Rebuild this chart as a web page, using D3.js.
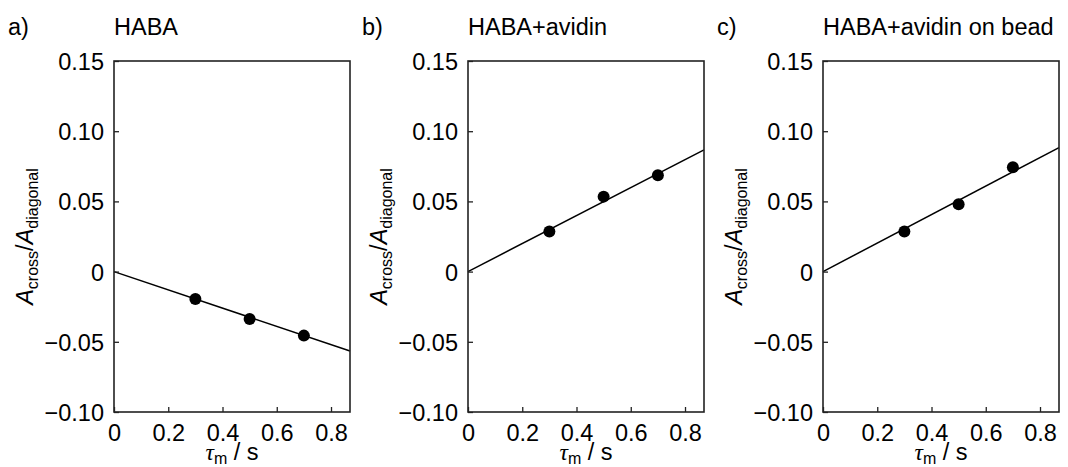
<!DOCTYPE html>
<html><head><meta charset="utf-8">
<script src="https://cdn.jsdelivr.net/npm/d3@7"></script>
<style>body{margin:0;background:#fff}svg{display:block}text{font-family:"Liberation Sans",Arial,sans-serif;fill:#000}</style>
</head><body>
<svg id="c" width="1068" height="467"></svg>
<script>
const panelLetters = ["a)", "b)", "c)"];
const panelTitles = ["HABA", "HABA+avidin", "HABA+avidin on bead"];
const mixingTimes = [0.3, 0.5, 0.7];
const ratioHABA = [-0.0195, -0.0338, -0.0456];
const ratioAvidin = [0.0285, 0.0534, 0.0687];
const ratioBead = [0.0285, 0.048, 0.0744];
const fitSlopes = [-0.065, 0.0997, 0.1015];
const yTicks = [0.15, 0.10, 0.05, 0, -0.05, -0.10];
const yTickLabels = ["0.15", "0.10", "0.05", "0", "\u22120.05", "\u22120.10"];
const xTicks = [0, 0.2, 0.4, 0.6, 0.8];
const xTickLabels = ["0", "0.2", "0.4", "0.6", "0.8"];
const series = [ratioHABA, ratioAvidin, ratioBead];

const svg = d3.select("#c");
const lefts = [114, 468, 823];
const W = 236, plotTop = 61, plotBottom = 412;
const xDom = [0, 0.87];
const FS = 23.5;

lefts.forEach((L, i) => {
  const g = svg.append("g");
  const x = d3.scaleLinear().domain(xDom).range([L, L + W]);
  const y = d3.scaleLinear().domain([-0.10, 0.15]).range([plotBottom, plotTop]);

  g.append("line")
    .attr("x1", x(0)).attr("y1", y(0))
    .attr("x2", x(xDom[1])).attr("y2", y(fitSlopes[i] * xDom[1]))
    .attr("stroke", "#000").attr("stroke-width", 1.5);

  g.selectAll("circle").data(mixingTimes.map((t, k) => [t, series[i][k]]))
    .join("circle")
    .attr("cx", d => x(d[0])).attr("cy", d => y(d[1]))
    .attr("r", 6).attr("fill", "#000");

  const yAxis = d3.axisLeft(y).tickValues(yTicks).tickSizeInner(-5).tickSizeOuter(0)
    .tickPadding(10).tickFormat((d, k) => yTickLabels[k]);
  const ya = g.append("g").attr("transform", `translate(${L},0)`).call(yAxis);
  const xAxis = d3.axisBottom(x).tickValues(xTicks).tickSizeInner(-5).tickSizeOuter(0)
    .tickPadding(10).tickFormat((d, k) => xTickLabels[k]);
  const xa = g.append("g").attr("transform", `translate(0,${plotBottom})`).call(xAxis);
  [ya, xa].forEach(a => {
    a.select(".domain").remove();
    a.selectAll("line").attr("stroke", "#222").attr("stroke-width", 1.3);
    a.selectAll("text").attr("font-size", FS).attr("font-family", '"Liberation Sans",Arial,sans-serif').attr("fill", "#000");
  });
  ya.selectAll("text").attr("dy", "0.36em");
  xa.selectAll("text").attr("dy", 0).attr("y", 29);

  g.append("rect").attr("x", L).attr("y", plotTop).attr("width", W).attr("height", plotBottom - plotTop)
    .attr("fill", "none").attr("stroke", "#222").attr("stroke-width", 1.6);

  g.append("text").attr("x", L - 106).attr("y", 35).attr("font-size", FS).text(panelLetters[i]);
  g.append("text").attr("x", L).attr("y", 35).attr("font-size", FS).text(panelTitles[i]);

  const xl = g.append("text").attr("x", L + W / 2).attr("y", 460).attr("text-anchor", "middle").attr("font-size", FS);
  xl.append("tspan").attr("font-style", "italic").attr("font-family", '"Liberation Serif",serif').text("\u03C4");
  xl.append("tspan").attr("font-size", 16).attr("dy", 4).text("m");
  xl.append("tspan").attr("dy", -4).text(" / s");

  const yl = g.append("text").attr("transform", `translate(${L - 81},${(plotTop + plotBottom) / 2}) rotate(-90)`)
    .attr("text-anchor", "middle").attr("font-size", FS);
  yl.append("tspan").attr("font-style", "italic").text("A");
  yl.append("tspan").attr("font-size", 16).attr("dy", 5).text("cross");
  yl.append("tspan").attr("dy", -5).text("/");
  yl.append("tspan").attr("font-style", "italic").text("A");
  yl.append("tspan").attr("font-size", 16).attr("dy", 5).text("diagonal");
});
</script>
</body></html>
